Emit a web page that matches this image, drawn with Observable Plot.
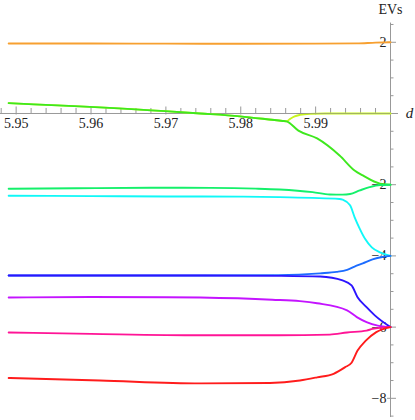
<!DOCTYPE html>
<html><head><meta charset="utf-8">
<script src="https://cdn.jsdelivr.net/npm/d3@7"></script>
<script src="https://cdn.jsdelivr.net/npm/@observablehq/plot@0.6"></script>
<style>body{margin:0;background:#fff} svg text{font-family:"Liberation Serif","DejaVu Serif",serif !important;}</style>
</head><body><div id="chart"></div>
<script>
// eigenvalue curves: [d, EV]
const orange = [[5.949,1.965],[5.96,1.964],[5.97,1.962],[5.98,1.96],[5.99,1.961],[5.9955,1.968],[5.998,1.99],[6.0,2.0]];
const yellowGreen = [[5.949,0.29],[5.9699,0.065],[5.9746,0.0],[5.9799,-0.08],[5.9856,-0.21],[5.9861,-0.22],[5.9866,-0.15],[5.9872,-0.08],[5.9879,-0.04],[5.9893,-0.01],[5.9913,0.0],[6.0,0.0]];
const green = [[5.949,0.29],[5.9699,0.065],[5.9746,0.0],[5.9799,-0.08],[5.9856,-0.21],[5.9861,-0.22],[5.9877,-0.48],[5.9902,-0.70],[5.9932,-1.18],[5.9952,-1.6],[5.9963,-1.74],[5.9986,-1.97],[6.0,-2.0]];
const spring = [[5.949,-2.115],[5.958,-2.10],[5.968,-2.087],[5.976,-2.09],[5.982,-2.11],[5.9852,-2.135],[5.9896,-2.21],[5.9919,-2.275],[5.9936,-2.28],[5.9946,-2.26],[5.9959,-2.16],[5.9972,-2.07],[5.9986,-2.01],[6.0,-2.0]];
const cyan = [[5.949,-2.31],[5.96,-2.32],[5.97,-2.33],[5.98,-2.335],[5.9852,-2.35],[5.9932,-2.40],[5.9936,-2.42],[5.9946,-2.58],[5.9952,-2.91],[5.9959,-3.24],[5.9966,-3.52],[5.9975,-3.76],[5.9986,-3.9],[6.0,-4.0]];
const azure = [[5.949,-4.55],[5.975,-4.55],[5.985,-4.54],[5.9906,-4.49],[5.9928,-4.45],[5.9942,-4.39],[5.9952,-4.30],[5.9963,-4.21],[5.9976,-4.10],[5.9989,-4.03],[6.0,-4.0]];
const blue = [[5.949,-4.55],[5.975,-4.55],[5.985,-4.56],[5.9906,-4.58],[5.9936,-4.69],[5.9948,-4.83],[5.9956,-5.16],[5.9968,-5.44],[5.9979,-5.67],[6.0,-6.0]];
const purple = [[5.949,-5.17],[5.96,-5.155],[5.97,-5.16],[5.9746,-5.17],[5.9842,-5.23],[5.9879,-5.27],[5.9902,-5.33],[5.9942,-5.53],[5.9955,-5.72],[5.9968,-5.86],[5.9983,-5.96],[6.0,-6.0]];
const pink = [[5.949,-6.15],[5.96,-6.19],[5.9746,-6.23],[5.985,-6.23],[5.9919,-6.21],[5.9942,-6.15],[5.9968,-6.10],[5.9976,-6.05],[6.0,-6.0]];
const red = [[5.949,-7.43],[5.9612,-7.5],[5.9746,-7.58],[5.9839,-7.57],[5.9879,-7.50],[5.9902,-7.41],[5.9924,-7.31],[5.9939,-7.13],[5.9948,-7.0],[5.9956,-6.66],[5.9967,-6.38],[5.9981,-6.14],[6.0,-6.0]];

const series = [
  {name:"yellowGreen", data:yellowGreen, color:"#c8f51e"},
  {name:"orange", data:orange, color:"#f7a030"},
  {name:"green", data:green, color:"#3ee81e"},
  {name:"spring", data:spring, color:"#14f06a"},
  {name:"cyan", data:cyan, color:"#10f8f8"},
  {name:"azure", data:azure, color:"#1c6cff"},
  {name:"blue", data:blue, color:"#2c14ff"},
  {name:"purple", data:purple, color:"#c414ff"},
  {name:"pink", data:pink, color:"#ff1496"},
  {name:"red", data:red, color:"#ff1c1c"}
];

const xMajor = [5.95, 5.96, 5.97, 5.98, 5.99];
const xMajorLabels = ["5.95","5.96","5.97","5.98","5.99"];
const yMajor = [2, -2, -4, -6, -8];
const yMajorLabels = ["2","\u22122","\u22124","\u22126","\u22128"];

const xMin = 5.94791, xMax = 6.0, yMin = -8.55, yMax = 2.55;
const pxX = 1/7500, pxY = 1/35.6;
const xMinor = d3.range(0, 27).map(i => +(5.948 + i*0.002).toFixed(3)).filter(v => v < 6.0 && !xMajor.some(m => Math.abs(m - v) < 1e-9));
const yMinor = d3.range(-8.5, 2.51, 0.5).filter(v => v !== 0 && !yMajor.includes(v));

const font = "'Liberation Serif', 'DejaVu Serif', serif";
const axisColor = "#999";
const marks = [
  Plot.ruleY([0], {x1: xMin - 0.001, x2: 6.0 + 8*pxX, stroke: axisColor, strokeWidth: 1}),
  Plot.ruleX([6.0], {y1: -8.54, y2: 2.54, stroke: axisColor, strokeWidth: 1}),
  Plot.ruleX(xMajor, {y1: -1.5*pxY, y2: 6.5*pxY, stroke: axisColor}),
  Plot.ruleX(xMinor, {y1: 0, y2: 5*pxY, stroke: axisColor}),
  Plot.ruleY(yMajor, {x1: 6.0 - 3*pxX, x2: 6.0 + 6*pxX, stroke: axisColor}),
  Plot.ruleY(yMinor, {x1: 6.0, x2: 6.0 + 3.5*pxX, stroke: axisColor}),
  Plot.text(xMajor, {x: d => d, y: 0, text: (d, i) => xMajorLabels[i], dy: 10, fill: "#222", fontSize: 14, fontFamily: font}),
  Plot.text(yMajor, {x: 6.0, y: d => d, text: (d, i) => yMajorLabels[i], dx: -4, textAnchor: "end", fill: "#222", fontSize: 14, fontFamily: font}),
  Plot.text(["EVs"], {x: 6.0, y: yMax, dy: -13, text: d => d, fill: "#222", fontSize: 14, fontFamily: font}),
  Plot.text(["d"], {x: 6.0, y: 0, dx: 19, text: d => d, fill: "#222", fontSize: 15, fontStyle: "italic", fontFamily: font})
];
series.forEach((s, k) => {
  marks.push(Plot.line(s.data, {x: d => d[0], y: d => d[1], stroke: s.color, strokeWidth: 1.9, curve: "monotone-x"}));
  if (k === 0) marks.push(Plot.ruleY([0], {x1: 5.9875, x2: 6.0, stroke: "#888", strokeWidth: 1, strokeOpacity: 0.6}));
});

const chart = Plot.plot({
  width: 415, height: 420,
  marginLeft: 0, marginRight: 25, marginTop: 22.2, marginBottom: 2.6,
  x: {domain: [xMin, xMax], axis: null},
  y: {domain: [yMin, yMax], axis: null},
  style: {fontFamily: font, background: "white", overflow: "visible"},
  marks
});
document.getElementById("chart").appendChild(chart);
</script>
</body></html>
